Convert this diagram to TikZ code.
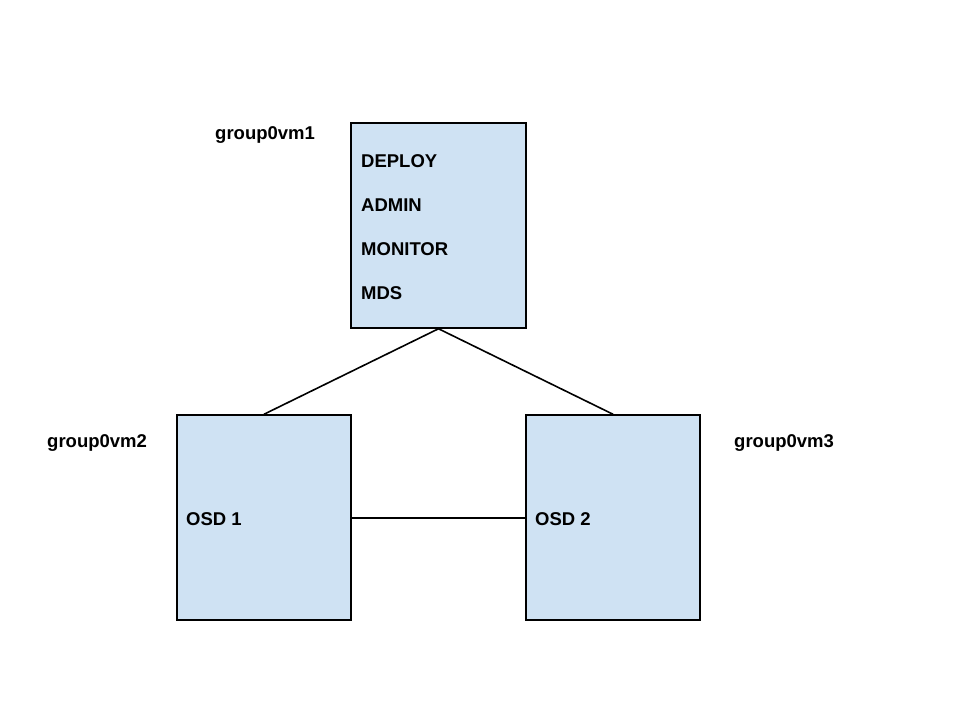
\documentclass[tikz,border=0pt]{standalone}
\usepackage{fontspec}
\setmainfont{Liberation Sans}
\begin{document}
\begin{tikzpicture}[x=1pt,y=-1pt,
  vmbox/.style={draw=black, line width=1.5pt, fill=boxblue, rectangle, inner sep=0pt, minimum width=#1, minimum height=205pt},
  link/.style={draw=black, line width=1.6pt},
  lbl/.style={anchor=base west, inner sep=0pt, font=\fontsize{18.5}{22}\selectfont\bfseries}]
\definecolor{boxblue}{HTML}{CFE2F3}
\useasboundingbox (0,0) rectangle (960,720);
\fill[white] (0,0) rectangle (960,720);
\node[vmbox=175pt] (vm1) at (438.5,225.5) {};
\node[vmbox=174pt] (vm2) at (264,517.5) {};
\node[vmbox=174pt] (vm3) at (613,517.5) {};
\draw[link] (vm1.south) -- (vm2.north);
\draw[link] (vm1.south) -- (vm3.north);
\draw[link] ([yshift=-0.5pt]vm2.east) -- ([yshift=-0.5pt]vm3.west);
\node[lbl] (n1) at (215,139) {group0vm1};
\node[lbl] (n2) at (47,447) {group0vm2};
\node[lbl] (n3) at (734,447) {group0vm3};
\node[lbl] (t1) at (361,167) {DEPLOY};
\node[lbl] (t2) at (361,211) {ADMIN};
\node[lbl] (t3) at (361,255) {MONITOR};
\node[lbl] (t4) at (361,299) {MDS};
\node[lbl] (o1) at (186,525) {OSD 1};
\node[lbl] (o2) at (535,525) {OSD 2};
\end{tikzpicture}
\end{document}
